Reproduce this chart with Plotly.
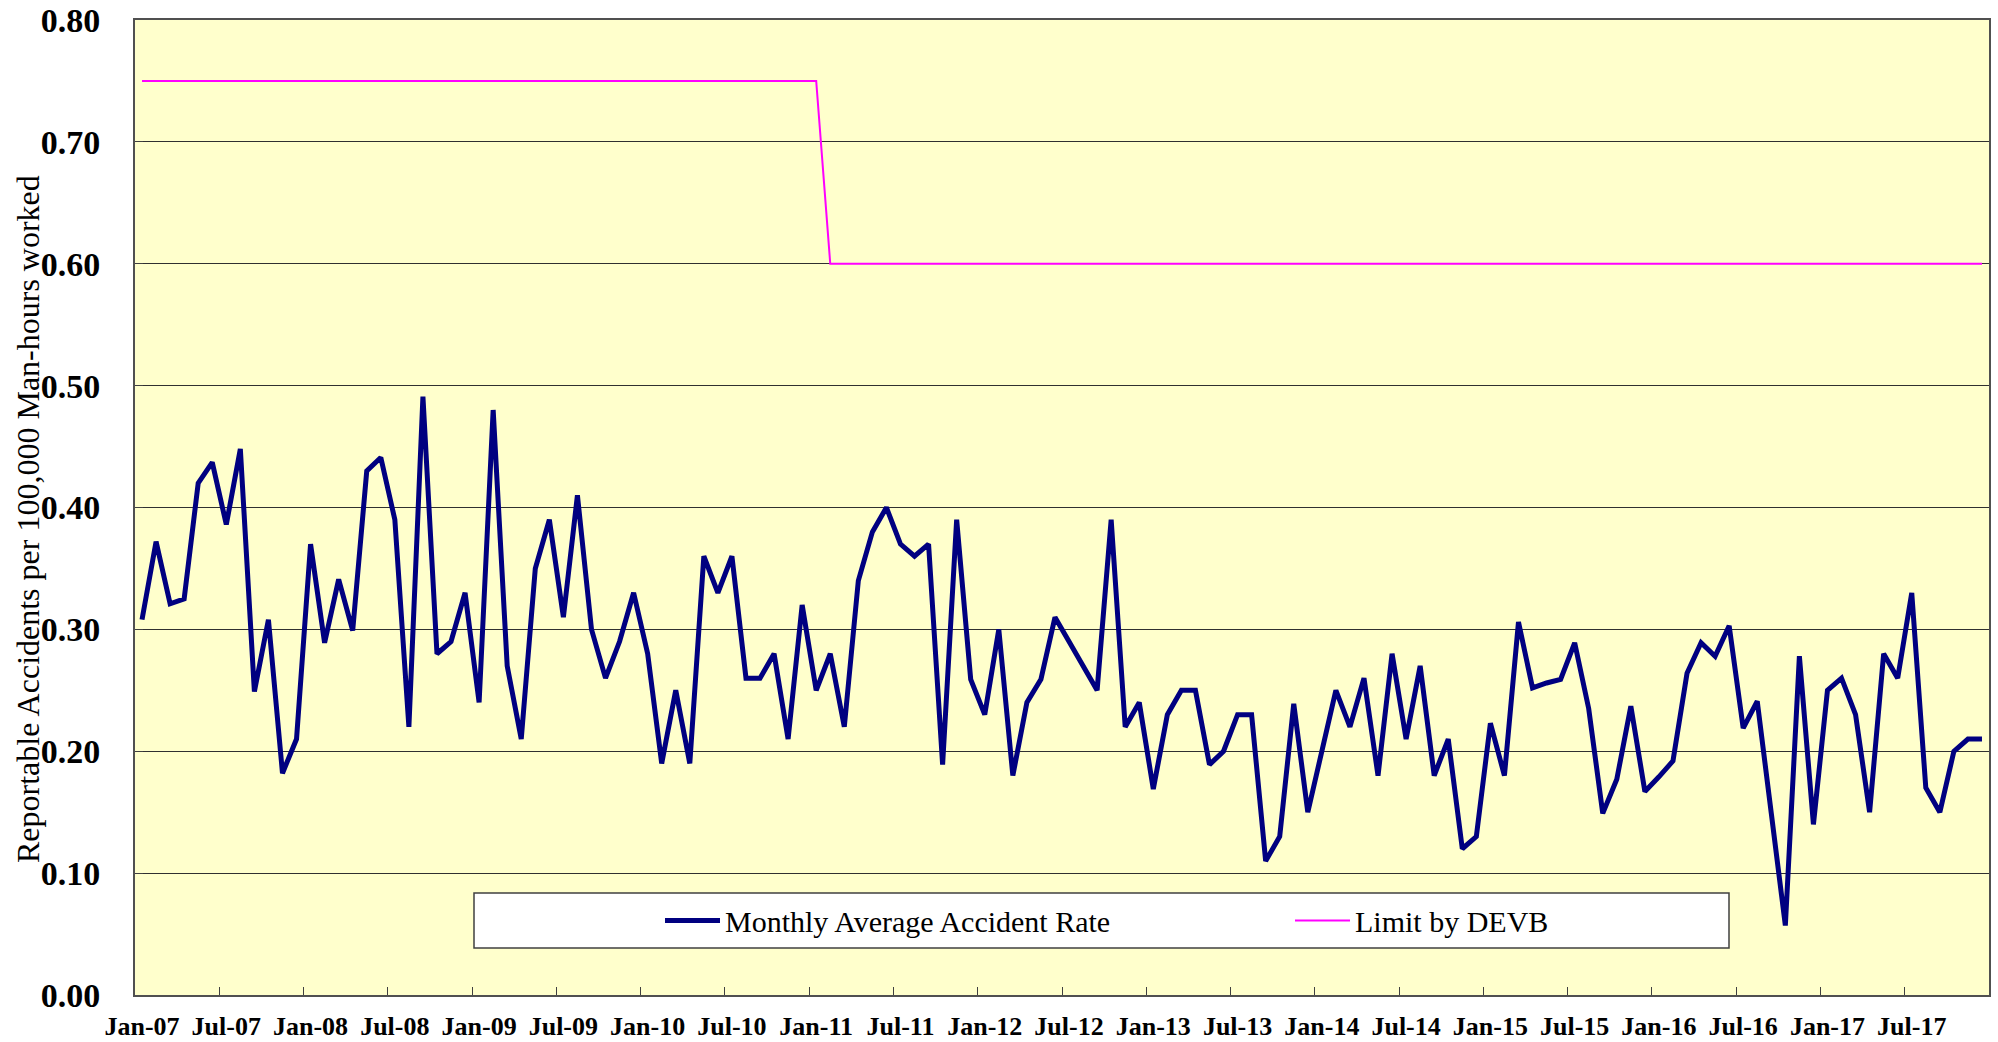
import plotly.graph_objects as go

# ---- data -------------------------------------------------------------
years = ["07", "08", "09", "10", "11", "12", "13", "14", "15", "16", "17"]
month_names = ["Jan", "Feb", "Mar", "Apr", "May", "Jun",
               "Jul", "Aug", "Sep", "Oct", "Nov", "Dec"]
months = [f"{m}-{y}" for y in years for m in month_names]

rate = [
    0.308, 0.372, 0.321, 0.325, 0.420, 0.437, 0.386, 0.448, 0.249, 0.308, 0.182, 0.210,  # 2007
    0.370, 0.289, 0.341, 0.299, 0.430, 0.441, 0.390, 0.220, 0.491, 0.280, 0.290, 0.330,  # 2008
    0.240, 0.480, 0.270, 0.210, 0.350, 0.390, 0.310, 0.410, 0.300, 0.260, 0.290, 0.330,  # 2009
    0.280, 0.190, 0.250, 0.190, 0.360, 0.330, 0.360, 0.260, 0.260, 0.280, 0.210, 0.320,  # 2010
    0.250, 0.280, 0.220, 0.340, 0.380, 0.400, 0.370, 0.360, 0.370, 0.189, 0.390, 0.259,  # 2011
    0.230, 0.300, 0.180, 0.240, 0.259, 0.310, 0.290, 0.270, 0.250, 0.390, 0.220, 0.240,  # 2012
    0.169, 0.230, 0.250, 0.250, 0.189, 0.200, 0.230, 0.230, 0.110, 0.130, 0.239, 0.150,  # 2013
    0.200, 0.250, 0.220, 0.260, 0.180, 0.280, 0.210, 0.270, 0.180, 0.210, 0.120, 0.130,  # 2014
    0.223, 0.180, 0.306, 0.252, 0.256, 0.259, 0.289, 0.235, 0.149, 0.177, 0.237, 0.167,  # 2015
    0.179, 0.192, 0.264, 0.289, 0.278, 0.303, 0.219, 0.241, 0.149, 0.057, 0.278, 0.140,  # 2016
    0.250, 0.260, 0.230, 0.150, 0.280, 0.260, 0.330, 0.170, 0.150, 0.200, 0.210, 0.210,  # 2017
]

# DEVB limit: 0.75 up to Jan-11, 0.60 from Feb-11
limit = [0.75] * 49 + [0.60] * 83

tick_labels = ["Jan-07", "Jul-07", "Jan-08", "Jul-08", "Jan-09", "Jul-09",
               "Jan-10", "Jul-10", "Jan-11", "Jul-11", "Jan-12", "Jul-12",
               "Jan-13", "Jul-13", "Jan-14", "Jul-14", "Jan-15", "Jul-15",
               "Jan-16", "Jul-16", "Jan-17", "Jul-17"]
y_ticks = [0.0, 0.1, 0.2, 0.3, 0.4, 0.5, 0.6, 0.7, 0.8]
y_title = "Reportable Accidents per 100,000 Man-hours worked"

# ---- figure -----------------------------------------------------------
x = list(range(len(months)))
tick_pos = [months.index(lbl) - 0.5 for lbl in tick_labels]

fig = go.Figure()
fig.add_trace(go.Scatter(
    x=x, y=rate, mode="lines", name="Monthly Average Accident Rate",
    text=months, hovertemplate="%{text}: %{y:.2f}<extra></extra>",
    line=dict(color="#000080", width=5),
))
fig.add_trace(go.Scatter(
    x=x, y=limit, mode="lines", name="Limit by DEVB",
    text=months, hovertemplate="%{text}: %{y:.2f}<extra></extra>",
    line=dict(color="#FF00FF", width=2),
))

serif = "Liberation Serif, Times New Roman, serif"

# plot area in pixels: left 135, right 1989, top 20, bottom 995
PL, PR, PT, PB = 135, 1989, 20, 995
def px_x(p):
    return (p - PL) / (PR - PL)
def px_y(p):
    return (PB - p) / (PB - PT)

# legend frame
fig.add_shape(type="rect", xref="paper", yref="paper",
              x0=px_x(474), x1=px_x(1729), y0=px_y(948), y1=px_y(893),
              fillcolor="white", line=dict(color="#404040", width=1.5),
              layer="above")

# y-axis title
fig.add_annotation(text=y_title, xref="paper", yref="paper",
                   x=px_x(28), y=px_y(519), xanchor="center", yanchor="middle",
                   textangle=-90, showarrow=False,
                   font=dict(family=serif, size=32, color="black"))

fig.update_layout(
    width=1998, height=1042,
    margin=dict(l=PL, r=1998 - PR, t=PT, b=1042 - PB),
    paper_bgcolor="white",
    plot_bgcolor="#FFFFCC",
    font=dict(family=serif, color="black"),
    showlegend=True,
    legend=dict(
        orientation="h",
        x=px_x(660), xanchor="left",
        y=px_y(920.5), yanchor="middle",
        bgcolor="rgba(0,0,0,0)", borderwidth=0,
        font=dict(family=serif, size=30, color="black"),
        entrywidth=560,
        itemwidth=55,
    ),
    xaxis=dict(
        automargin=False,
        range=[-0.5, len(months) - 0.5],
        tickmode="array", tickvals=tick_pos, ticktext=tick_labels,
        ticks="inside", ticklen=8, tickwidth=1.2, tickcolor="#404040",
        ticklabelshift=7, ticklabelstandoff=7,
        tickfont=dict(family=serif, size=26, color="black", weight="bold"),
        showgrid=False, zeroline=False,
        showline=True, linecolor="#505050", linewidth=2, mirror=True,
    ),
    yaxis=dict(
        automargin=False,
        range=[0, 0.8],
        tickmode="array", tickvals=y_ticks, tickformat=".2f",
        ticks="inside", ticklen=8, tickwidth=1.2, tickcolor="#404040",
        ticklabelstandoff=26,
        tickfont=dict(family=serif, size=34, color="black", weight="bold"),
        showgrid=True, gridcolor="#303030", gridwidth=1.2,
        zeroline=False,
        showline=True, linecolor="#505050", linewidth=2, mirror=True,
    ),
)

fig.write_html("out.html",
               config={"displayModeBar": False},
               post_script="document.body.style.margin='0';"
                           "document.body.style.overflow='hidden';")
